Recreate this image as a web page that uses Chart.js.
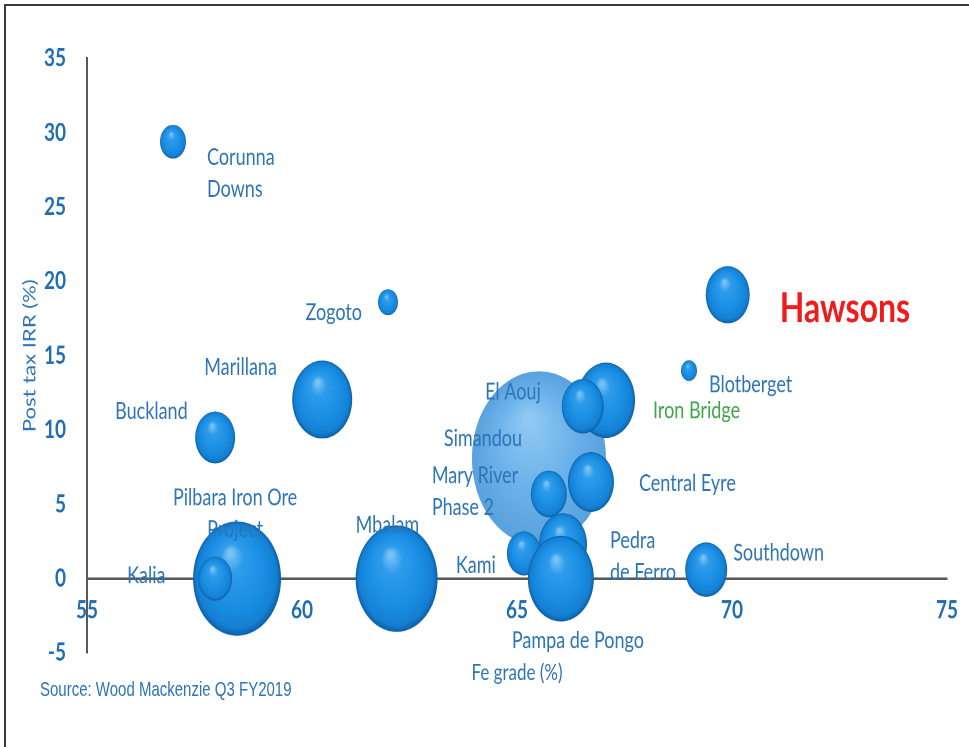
<!DOCTYPE html>
<html>
<head>
<meta charset="utf-8">
<script src="https://cdn.jsdelivr.net/npm/chart.js@4.4.1/dist/chart.umd.min.js"></script>
<style>
  body { margin: 0; background: #fff; }
  #frame { position: absolute; left: 0; top: 0; width: 969px; height: 747px; overflow: hidden; background: #fff; }
  /* the source picture is stretched vertically, so the whole chart is drawn flat and scaled */
  #stage { position: absolute; left: 0; top: 0; width: 969px; height: 575px; transform: scaleY(1.2991); transform-origin: 0 0; }
  #src { position: absolute; left: 40px; top: 522px; font: 15px "Liberation Sans", Arial, sans-serif; color: #2e75b6; white-space: nowrap; }
  .edge-top { position: absolute; left: 4px; top: 4px; width: 965px; height: 2px; background: #3a3a3a; }
  .edge-left { position: absolute; left: 4px; top: 4px; width: 2px; height: 743px; background: #3a3a3a; }
</style>
</head>
<body>
<div id="frame">
  <div id="stage">
    <canvas id="bubbleChart" width="969" height="575"></canvas>
    <div id="src">Source: Wood Mackenzie Q3 FY2019</div>
  </div>
  <div class="edge-top"></div>
  <div class="edge-left"></div>
</div>
<script>
// project data, drawing order back to front
const projects = ['Corunna Downs', 'Zogoto', 'Marillana', 'Buckland', 'Pilbara Iron Ore Project', 'Kalia',
  'Mbalam', 'Simandou', 'Iron Bridge', 'El Aouj', 'Central Eyre', 'Mary River Phase 2', 'Pedra de Ferro',
  'Kami', 'Pampa de Pongo', 'Blotberget', 'Hawsons', 'Southdown'];
const feGrade = [57.0, 62.0, 60.47, 57.98, 58.49, 57.98, 62.2, 65.51, 67.07, 66.53, 66.72, 65.74, 66.07,
  65.16, 66.02, 69.0, 69.9, 69.4];
const irr = [29.4, 18.6, 12.05, 9.5, 0, 0, 0, 8.1, 12.0, 11.6, 6.5, 5.7, 2.3, 1.7, 0, 14.0, 19.1, 0.6];
const bubbleSize = [13, 10, 30, 20, 44, 17, 41, 67, 29, 21, 23, 18, 24, 17, 33, 8, 22, 21];
const xTicks = [55, 60, 65, 70, 75];
const yTicks = [-5, 0, 5, 10, 15, 20, 25, 30, 35];

const blueText = '#2e75b6';
const tickBlue = '#1f6db3';

// where each label sits relative to its bubble
const labelLayout = {
  'Corunna Downs': { dx: 34, dy: 12, lines: ['Corunna', 'Downs'] },
  'Zogoto': { dx: -26, dy: 8, align: 'right' },
  'Marillana': { dx: -118, dy: -25 },
  'Buckland': { dx: -100, dy: -20 },
  'Pilbara Iron Ore Project': { dx: -2, dy: -62, align: 'center', lines: ['Pilbara Iron Ore', 'Project'] },
  'Kalia': { dx: -88, dy: -2 },
  'Mbalam': { dx: -41, dy: -41 },
  'Simandou': { dx: -95, dy: -15 },
  'Iron Bridge': { dx: 47, dy: 8, color: '#3fa648' },
  'El Aouj': { dx: -42, dy: -11, align: 'right' },
  'Central Eyre': { dx: 48, dy: 1 },
  'Mary River Phase 2': { dx: -117, dy: -14, lines: ['Mary River', 'Phase 2'] },
  'Pedra de Ferro': { dx: 47, dy: -3, lines: ['Pedra', 'de Ferro'] },
  'Kami': { dx: -68, dy: 9 },
  'Pampa de Pongo': { dx: -49, dy: 48 },
  'Blotberget': { dx: 20, dy: 11 },
  'Hawsons': { dx: 52, dy: 11, color: '#ee1c1c', font: 'bold 32px Lato, sans-serif' },
  'Southdown': { dx: 27, dy: -13 }
};

function sphereFill(ctx) {
  const chart = ctx.chart;
  const raw = ctx.raw;
  if (!raw || !chart.chartArea) return '#1e8fe0';
  const cx = chart.scales.x.getPixelForValue(raw.x);
  const cy = chart.scales.y.getPixelForValue(raw.y);
  const r = raw.r;
  const g = chart.ctx.createRadialGradient(cx - r * 0.15, cy - r * 0.45, r * 0.05, cx, cy, r);
  if (projects[ctx.dataIndex] === 'Simandou') {
    g.addColorStop(0, 'rgba(120,190,242,0.82)');
    g.addColorStop(0.5, 'rgba(78,163,230,0.82)');
    g.addColorStop(1, 'rgba(60,145,215,0.85)');
  } else {
    g.addColorStop(0, '#78c2f4');
    g.addColorStop(0.22, '#2e9cec');
    g.addColorStop(0.65, '#1a8ee3');
    g.addColorStop(0.9, '#1580d3');
    g.addColorStop(1, '#0c60a8');
  }
  return g;
}

const labelPlugin = {
  id: 'bubbleLabels',
  afterDatasetsDraw(chart) {
    const meta = chart.getDatasetMeta(0);
    const c = chart.ctx;
    c.save();
    c.textBaseline = 'middle';
    meta.data.forEach((pt, i) => {
      const spec = labelLayout[projects[i]];
      if (!spec) return;
      const lines = spec.lines || [projects[i]];
      c.font = spec.font || '18px Lato, sans-serif';
      c.fillStyle = spec.color || blueText;
      c.textAlign = spec.align || 'left';
      lines.forEach((t, k) => c.fillText(t, pt.x + spec.dx, pt.y + spec.dy + k * 24.5));
    });
    c.restore();
  }
};

const ctx = document.getElementById('bubbleChart').getContext('2d');
new Chart(ctx, {
  type: 'bubble',
  data: {
    datasets: [{
      label: 'Projects',
      data: projects.map((p, i) => ({ x: feGrade[i], y: irr[i], r: bubbleSize[i] })),
      backgroundColor: sphereFill,
      borderWidth: 0,
      clip: false
    }]
  },
  options: {
    responsive: false,
    devicePixelRatio: 2,
    animation: false,
    events: [],
    layout: { autoPadding: false, padding: { left: 10, right: 22, top: 45, bottom: 47 } },
    plugins: {
      legend: { display: false },
      tooltip: { enabled: false },
      title: {
        display: true,
        position: 'bottom',
        fullSize: false,
        text: 'Fe grade (%)',
        color: blueText,
        font: { family: 'Lato', size: 17, weight: 'normal' },
        padding: { top: 5, bottom: 0 }
      }
    },
    scales: {
      x: {
        type: 'linear',
        min: 55, max: 75,
        position: { y: 0 },
        grid: { display: false },
        border: { display: true, color: '#595959', width: 2 },
        afterBuildTicks: s => { s.ticks = xTicks.map(v => ({ value: v })); },
        ticks: { padding: 5, color: tickBlue, font: { family: 'Lato', size: 19, weight: 'bold' } }
      },
      y: {
        type: 'linear',
        min: -5, max: 35,
        position: 'left',
        grid: { display: false },
        border: { display: true, color: '#595959', width: 2 },
        afterBuildTicks: s => { s.ticks = yTicks.map(v => ({ value: v })); },
        afterFit: s => { s.width = 77; },
        ticks: { padding: 13, color: tickBlue, font: { family: 'Lato', size: 19, weight: 'bold' } },
        title: {
          display: true,
          text: 'Post tax IRR (%)',
          color: blueText,
          font: { family: 'Lato', size: 17, weight: 'normal' },
          padding: { top: 10, bottom: 4 }
        }
      }
    }
  },
  plugins: [labelPlugin]
});
</script>
</body>
</html>
